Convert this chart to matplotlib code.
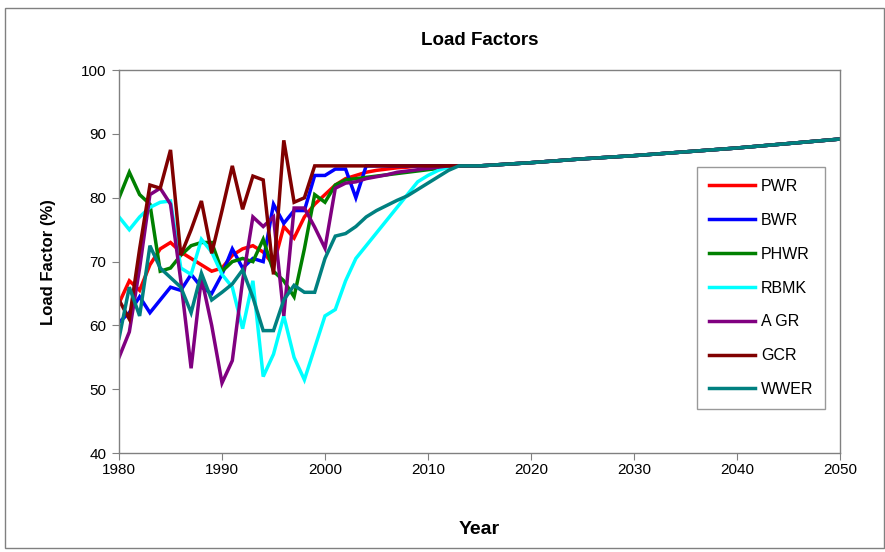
import matplotlib
matplotlib.use("Agg")
import matplotlib.pyplot as plt
from matplotlib.patches import Rectangle

plt.rcParams['font.family'] = ['Liberation Sans', 'DejaVu Sans']

# ---- data ----
hist_years = list(range(1980, 2015))
proj_years = [2015, 2020, 2025, 2030, 2035, 2040, 2045, 2050]
proj_values = [85.0, 85.5, 86.1, 86.6, 87.2, 87.8, 88.5, 89.2]

pwr = [63.5, 67, 65.5, 69.5, 72, 73, 71.5, 70.5, 69.5, 68.5,
       69, 71, 72, 72.5, 71.5, 69.5, 75.5, 73.7, 77, 79,
       80.5, 82, 83, 83.5, 84, 84.3, 84.5, 84.7, 84.8, 85,
       85, 85, 85, 85, 85]
bwr = [60.5, 62, 64.5, 62, 64, 66, 65.5, 68, 66, 65,
       68, 72, 69, 70.5, 70, 79, 76, 78, 78, 83.5,
       83.5, 84.5, 84.5, 80, 85, 85, 85, 85, 85, 85,
       85, 85, 85, 85, 85]
phwr = [80, 84, 80.5, 79, 68.5, 69, 71, 72.5, 73, 73,
        68.5, 70, 70.5, 70, 73.5, 68.5, 67, 64.5, 72, 80.5,
        79.3, 82, 82.8, 83, 83.2, 83.4, 83.6, 83.8, 84, 84.2,
        84.4, 84.6, 84.8, 85, 85]
rbmk = [77, 75, 77, 78.5, 79.3, 79.5, 69, 68, 73.5, 71.5,
        68, 66, 59.5, 67, 52, 55.5, 61.5, 55, 51.5, 56.5,
        61.5, 62.5, 67, 70.5, 72.5, 74.5, 76.5, 78.5, 80.5, 82.5,
        83.5, 84.3, 84.8, 85, 85]
agr = [55, 59, 69, 80.5, 81.5, 79, 67, 53.3, 67.5, 60,
       51, 54.5, 67, 77, 75.5, 77, 61.5, 78.4, 78.4, 75.4,
       72.1, 81.5, 82.3, 82.5, 83, 83.3, 83.6, 84, 84.2, 84.4,
       84.6, 84.8, 85, 85, 85]
gcr = [64, 61, 72, 82, 81.5, 87.5, 71, 75, 79.5, 71.3,
       78, 85, 78.2, 83.4, 82.8, 68, 89, 79.3, 80, 85,
       85, 85, 85, 85, 85, 85, 85, 85, 85, 85,
       85, 85, 85, 85, 85]
wwer = [58, 66, 61.5, 72.5, 69, 67.5, 66, 62, 68.2, 64,
        65.2, 66.5, 68.7, 64.4, 59.2, 59.2, 64, 66.3, 65.2, 65.2,
        70.5, 74, 74.4, 75.5, 77, 78, 78.8, 79.6, 80.3, 81.3,
        82.3, 83.3, 84.3, 85, 85]

labels = ["PWR", "BWR", "PHWR", "RBMK", "A GR", "GCR", "WWER"]
series = [pwr, bwr, phwr, rbmk, agr, gcr, wwer]
colors = ["#FF0000", "#0000FF", "#008000", "#00FFFF", "#800080", "#800000", "#008080"]
x_ticks = [1980, 1990, 2000, 2010, 2020, 2030, 2040, 2050]
y_ticks = [40, 50, 60, 70, 80, 90, 100]

# ---- figure ----
fig = plt.figure(figsize=(8.85, 5.52), dpi=100)
ax = fig.add_axes([0.1345, 0.179, 0.8145, 0.694])

for vals, lab, col in zip(series, labels, colors):
    xs = hist_years + proj_years
    ys = vals + proj_values
    ax.plot(xs, ys, color=col, lw=2.5, label=lab, solid_joinstyle='miter')

ax.set_xlim(1980, 2050)
ax.set_ylim(40, 100)
ax.set_xticks(x_ticks)
ax.set_yticks(y_ticks)
ax.tick_params(axis='both', labelsize=11, direction='out', length=5,
               color='#808080')
ax.tick_params(axis='x', pad=2)
ax.tick_params(axis='y', pad=4)
for s in ax.spines.values():
    s.set_color('#808080')
    s.set_linewidth(1.0)

ax.set_title("Load Factors", fontsize=13.5, fontweight='bold', pad=18)
ax.set_ylabel("Load Factor (%)", fontsize=12, fontweight='bold', labelpad=18)
ax.set_xlabel("Year", fontsize=14, fontweight='bold', labelpad=32)

leg = ax.legend(loc='upper left', bbox_to_anchor=(0.802, 0.747),
                fontsize=11.5, frameon=True, fancybox=False,
                labelspacing=1.18, handlelength=2.9, handletextpad=0.35,
                borderpad=0.75, borderaxespad=0)
leg.get_frame().set_edgecolor('#808080')
leg.get_frame().set_linewidth(1.0)
for h in leg.get_lines():
    h.set_linewidth(2.5)

fig.patches.append(Rectangle((5 / 885, 4 / 552), 879 / 885, 540 / 552,
                             transform=fig.transFigure, fill=False,
                             edgecolor='#808080', lw=1.0))

fig.savefig("out.png", dpi=100)
